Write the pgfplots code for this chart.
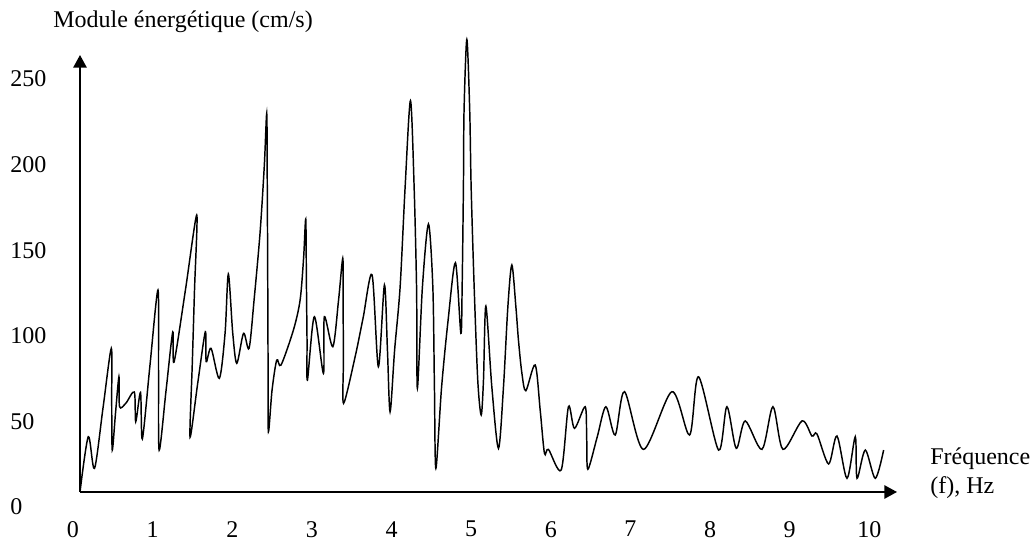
\documentclass[border=0pt]{standalone}
\usepackage{fontspec}
\setmainfont{Liberation Serif}
\usepackage{pgfplots}
\pgfplotsset{compat=1.18}
\usetikzlibrary{arrows.meta}
\begin{document}
\begin{tikzpicture}
\path[use as bounding box] (0,0) rectangle (774pt,406.5pt);
\begin{axis}[
  at={(60pt,37.5pt)}, anchor=south west,
  scale only axis, width=612.75pt, height=327.75pt,
  xmin=0, xmax=10.26, ymin=0, ymax=255.3,
  axis lines=left,
  axis line style={line width=1.3pt, -{Triangle[length=9.5pt,width=10pt]}},
  xtick={0,1,...,10}, ytick={0,50,...,250},
  major tick length=0pt,
  /pgf/number format/assume math mode=true,
  tick label style={font=\fontsize{18}{21}\selectfont, inner sep=0pt},
  xticklabel style={anchor=north, yshift=-21.75pt, xshift=-5.25pt},
  yticklabel style={anchor=west, xshift=-52.5pt, yshift=-11.25pt},
  clip=false,
]
\addplot[black, line width=1.1pt, smooth, tension=0.5] coordinates {
(0,0) (0.104,32.3) (0.182,13.8) (0.289,49.1) (0.393,83.9) (0.398,53.7)
(0.405,24.5) (0.446,46.1) (0.489,67.3) (0.497,49.8) (0.578,52.0) (0.682,58.4)
(0.700,41.1) (0.760,58.1) (0.783,31.0) (0.879,74.2) (0.979,118.0) (0.986,71.3)
(0.994,24.5) (1.080,59.0) (1.165,93.5) (1.181,75.9) (1.324,118.0) (1.466,161.8)
(1.438,118.0) (1.410,74.8) (1.382,32.1) (1.477,63.1) (1.574,93.6) (1.585,76.1)
(1.646,83.9) (1.750,66.4) (1.822,92.9) (1.863,127.3) (1.918,92.9) (1.969,75.2)
(2.054,92.7) (2.123,83.9) (2.186,112.1) (2.261,151.3) (2.315,191.0) (2.345,221.2)
(2.351,185.2) (2.357,129.7) (2.362,71.3) (2.366,35.2) (2.412,59.6) (2.471,77.1)
(2.525,74.2) (2.680,94.6) (2.764,112.1) (2.808,136.7) (2.835,159.5) (2.843,123.8)
(2.851,88.8) (2.856,65.4) (2.943,102.4) (3.057,69.3) (3.069,102.4) (3.175,84.9)
(3.247,112.1) (3.300,136.5) (3.304,112.1) (3.308,77.1) (3.310,51.8) (3.455,79.0)
(3.555,101.6) (3.668,126.8) (3.747,73.2) (3.823,120.9) (3.861,82.9) (3.894,46.9)
(3.951,82.9) (4.020,119.7) (4.083,178.2) (4.150,228.6) (4.196,178.2) (4.227,118.0)
(4.237,60.6) (4.300,119.7) (4.376,156.5) (4.431,119.7) (4.451,61.3) (4.469,13.8)
(4.541,61.3) (4.623,100.5) (4.715,133.9) (4.783,92.7) (4.799,119.7) (4.815,178.2)
(4.823,223.1) (4.858,264.4) (4.894,223.1) (4.912,178.2) (4.950,119.7) (4.995,65.4)
(5.038,45.0) (5.067,65.4) (5.097,108.6) (5.172,61.3) (5.255,25.5) (5.318,61.3)
(5.373,108.1) (5.423,132.6) (5.474,108.1) (5.506,88.8) (5.549,69.5) (5.599,59.2)
(5.716,74.2) (5.779,47.9) (5.833,22.6) (5.883,24.9) (6.043,12.9) (6.134,49.8)
(6.210,37.2) (6.344,49.8) (6.363,31.5) (6.378,13.3) (6.495,32.1) (6.604,49.8)
(6.721,33.3) (6.838,58.6) (7.077,24.9) (7.433,58.6) (7.655,33.3) (7.768,67.3)
(8.019,24.5) (8.124,49.8) (8.241,25.5) (8.354,41.5) (8.564,24.9) (8.702,49.8)
(8.828,24.9) (9.067,41.5) (9.192,32.7) (9.255,33.9) (9.401,16.4) (9.506,32.7)
(9.632,8.0) (9.736,32.3) (9.758,8.0) (9.862,24.5) (9.987,8.0) (10.092,24.5)
};
\end{axis}
\node[anchor=base west, inner sep=0pt, font=\fontsize{18}{21}\selectfont] at (39.75pt,386pt) {Module énergétique (cm/s)};
\node[anchor=base west, inner sep=0pt, font=\fontsize{18}{21}\selectfont] at (697.5pt,57.75pt) {Fréquence};
\node[anchor=base west, inner sep=0pt, font=\fontsize{18}{21}\selectfont] at (697.5pt,36pt) {(f), Hz};
\end{tikzpicture}
\end{document}
